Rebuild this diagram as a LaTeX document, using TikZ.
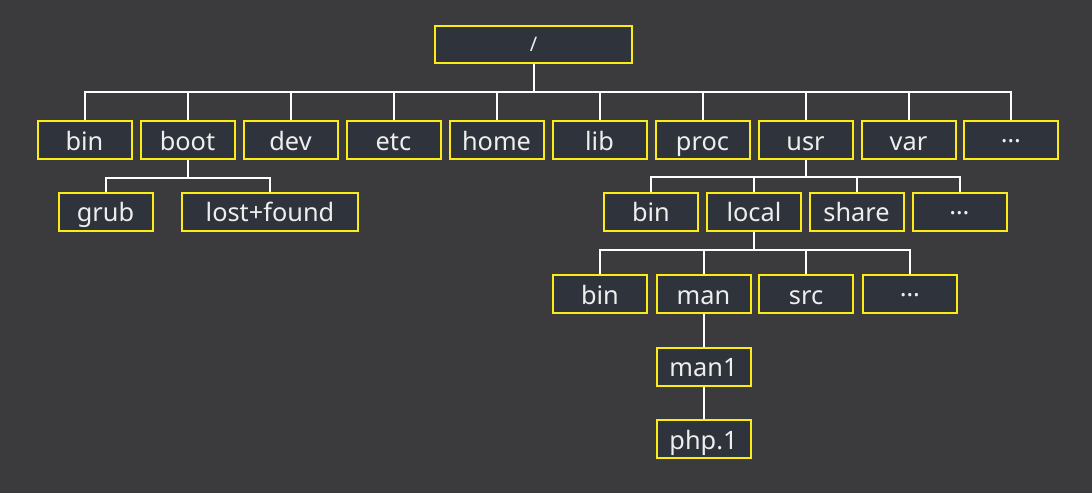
\documentclass[tikz,border=0pt]{standalone}
\usepackage{fontspec}
\setmainfont{Noto Sans}
\definecolor{bgc}{RGB}{59,59,61}
\definecolor{boxfill}{RGB}{47,51,60}
\definecolor{ylw}{RGB}{250,236,20}
\definecolor{txt}{RGB}{238,238,238}
\newcommand{\dotsmid}{\raisebox{5.5pt}{\fontsize{19pt}{19pt}\selectfont …}}
\tikzset{
  fbox/.style={draw=ylw, fill=boxfill, line width=1.5pt, text=txt,
    minimum width=70.5pt, minimum height=28.5pt, inner sep=0pt,
    text height=18pt, text depth=3pt,
    font=\fontsize{19pt}{22pt}\selectfont},
  wide/.style={minimum width=132pt},
  rootw/.style={minimum width=147.75pt, minimum height=27.75pt,
    text height=14pt, text depth=3pt,
    font=\fontsize{15pt}{18pt}\selectfont},
  link/.style={draw=white, line width=1.5pt}
}
\begin{document}
\begin{tikzpicture}[x=0.75pt, y=-0.75pt]
\fill[bgc] (0,0) rectangle (1092,493);
\useasboundingbox (0,0) rectangle (1092,493);
% root
\node[fbox, rootw] (root) at (533.5,44.5) {/};
% level 1
\node[fbox] (bin) at (84.5,140) {bin};
\node[fbox] (boot) at (187.5,140) {boot};
\node[fbox] (dev) at (290.5,140) {dev};
\node[fbox] (etc) at (393.5,140) {etc};
\node[fbox] (home) at (496.5,140) {home};
\node[fbox] (lib) at (599.5,140) {lib};
\node[fbox] (proc) at (702.5,140) {proc};
\node[fbox] (usr) at (805.5,140) {usr};
\node[fbox] (var) at (908.5,140) {var};
\node[fbox] (more1) at (1011,140) {\dotsmid};
% boot children
\node[fbox] (grub) at (105.5,211.5) {grub};
\node[fbox, wide] (lost) at (270,211.5) {lost+found};
% usr children
\node[fbox] (ubin) at (651,211.5) {bin};
\node[fbox] (local) at (754,211.5) {local};
\node[fbox] (share) at (856.5,211.5) {share};
\node[fbox] (more2) at (959.5,211.5) {\dotsmid};
% local children
\node[fbox] (lbin) at (600,294) {bin};
\node[fbox] (man) at (703.5,294) {man};
\node[fbox] (src) at (806,294) {src};
\node[fbox] (more3) at (910,294) {\dotsmid};
% man chain
\node[fbox] (man1) at (703.5,366.5) {man1};
\node[fbox] (php) at (703.5,439) {php.1};
% buses
\coordinate (b0) at (533.5,92);
\coordinate (b1) at (187.5,178);
\coordinate (b2) at (805.5,177);
\coordinate (b3) at (754,250);
\draw[link] (root.south) -- (b0);
\foreach \c in {bin,boot,dev,etc,home,lib,proc,usr,var,more1}
  \draw[link] (b0) -| (\c.north);
\draw[link] (boot.south) -- (b1);
\foreach \c in {grub,lost}
  \draw[link] (b1) -| (\c.north);
\draw[link] (usr.south) -- (b2);
\foreach \c in {ubin,local,share,more2}
  \draw[link] (b2) -| (\c.north);
\draw[link] (local.south) -- (b3);
\foreach \c in {lbin,man,src,more3}
  \draw[link] (b3) -| (\c.north);
\draw[link] (man.south) -- (man1.north);
\draw[link] (man1.south) -- (php.north);
\end{tikzpicture}
\end{document}
